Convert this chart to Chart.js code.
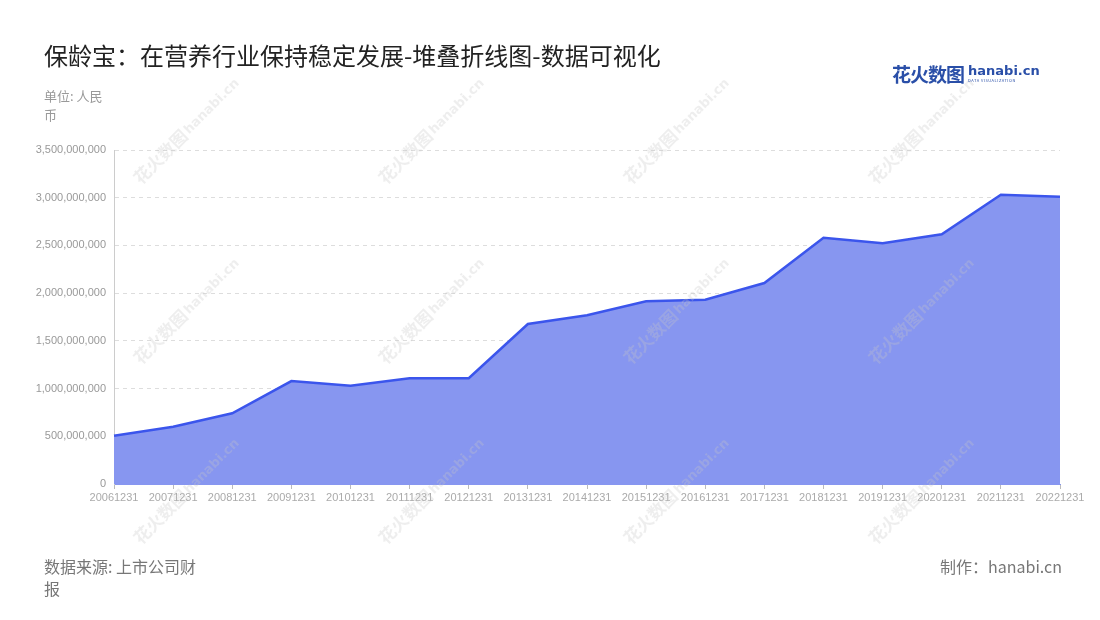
<!DOCTYPE html>
<html>
<head>
<meta charset="utf-8">
<script src="https://cdn.jsdelivr.net/npm/chart.js@4/dist/chart.umd.min.js"></script>
<style>
  body { margin: 0; background: #fff; font-family: "Noto Sans CJK SC", "Noto Sans", sans-serif; }
  #wrap { position: relative; width: 1100px; height: 620px; overflow: hidden; }
  #chart { position: absolute; left: 0; top: 0; }
  .title { position: absolute; left: 44px; top: 37px; font-size: 24px; color: #222; }
  .unit { position: absolute; left: 44px; top: 86px; width: 70px; font-size: 13px; line-height: 19px; color: #999; }
  .source { position: absolute; left: 44px; top: 555px; width: 162px; font-size: 16px; line-height: 22px; color: #777; }
  .maker { position: absolute; right: 38px; top: 555px; font-size: 16px; line-height: 22px; color: #777; }
  .logo { position: absolute; left: 892px; top: 60px; display: flex; align-items: center; }
  .logo .cn { font-size: 19px; font-weight: bold; color: #2a4fa8; letter-spacing: -1px; }
  .logo .en { margin-left: 4px; color: #2a4fa8; }
  .logo .en b { display: block; font-family: "DejaVu Sans", sans-serif; font-size: 13px; line-height: 13px; }
  .logo .en i { display: block; font-style: normal; font-size: 4px; line-height: 6px; letter-spacing: 0.5px; }
</style>
</head>
<body>
<div id="wrap">
  <canvas id="chart" width="1100" height="620"></canvas>
  <div class="title">保龄宝：在营养行业保持稳定发展-堆叠折线图-数据可视化</div>
  <div class="unit">单位: 人民币</div>
  <div class="logo"><span class="cn">花火数图</span><span class="en"><b>hanabi.cn</b><i>DATA VISUALIZATION</i></span></div>
  <div class="source">数据来源: 上市公司财报</div>
  <div class="maker">制作：hanabi.cn</div>
</div>
<script>
const labels = ['20061231', '20071231', '20081231', '20091231', '20101231', '20111231', '20121231', '20131231', '20141231',
  '20151231', '20161231', '20171231', '20181231', '20191231', '20201231', '20211231', '20221231'];
const revenue = [506000000, 600000000, 741000000, 1079000000, 1030000000, 1108000000, 1108000000, 1677000000, 1768000000,
  1914000000, 1932000000, 2106000000, 2581000000, 2522000000, 2616000000, 3032000000, 3011000000];
const yMax = 3500000000;
const yStep = 500000000;

// faint diagonal watermark like the source site
const watermark = {
  id: 'watermark',
  afterDatasetsDraw(chart) {
    const c = chart.ctx;
    c.save();
    c.fillStyle = 'rgba(200,200,200,0.3)';
    [165, 410, 655, 900].forEach(x => {
      [150, 330, 510].forEach(y => {
        c.save();
        c.translate(x, y);
        c.rotate(-Math.PI / 4);
        c.font = 'bold 17px "Noto Sans CJK SC"';
        c.fillText('花火数图', -42, 8);
        c.font = 'bold 13px "DejaVu Sans"';
        c.fillText('hanabi.cn', 28, 6);
        c.restore();
      });
    });
    c.restore();
  }
};

new Chart(document.getElementById('chart'), {
  type: 'line',
  data: {
    labels: labels,
    datasets: [{
      data: revenue,
      borderColor: '#3b55ec',
      backgroundColor: 'rgba(135,150,240,1)',
      borderWidth: 2.5,
      fill: 'origin',
      pointRadius: 0,
      tension: 0
    }]
  },
  options: {
    responsive: false,
    animation: false,
    layout: { padding: { top: 150, right: 40, bottom: 96, left: 0 } },
    plugins: { legend: { display: false }, tooltip: { enabled: false } },
    scales: {
      x: {
        offset: false,
        afterFit: s => { s.height = 40; },
        grid: { drawOnChartArea: false, tickLength: 5, color: '#bbb' },
        border: { color: '#8796f0' },
        ticks: { maxRotation: 0, autoSkip: false, color: '#aaa', font: { size: 11 }, padding: 2 }
      },
      y: {
        min: 0,
        max: yMax,
        afterFit: s => { s.width = 114; },
        grid: { color: '#ddd', tickLength: 0 },
        border: { color: '#ccc', dash: [4, 4] },
        ticks: {
          stepSize: yStep,
          color: '#999',
          font: { size: 11 },
          padding: 8,
          callback: v => v.toLocaleString('en-US')
        }
      }
    }
  },
  plugins: [watermark]
});
</script>
</body>
</html>
